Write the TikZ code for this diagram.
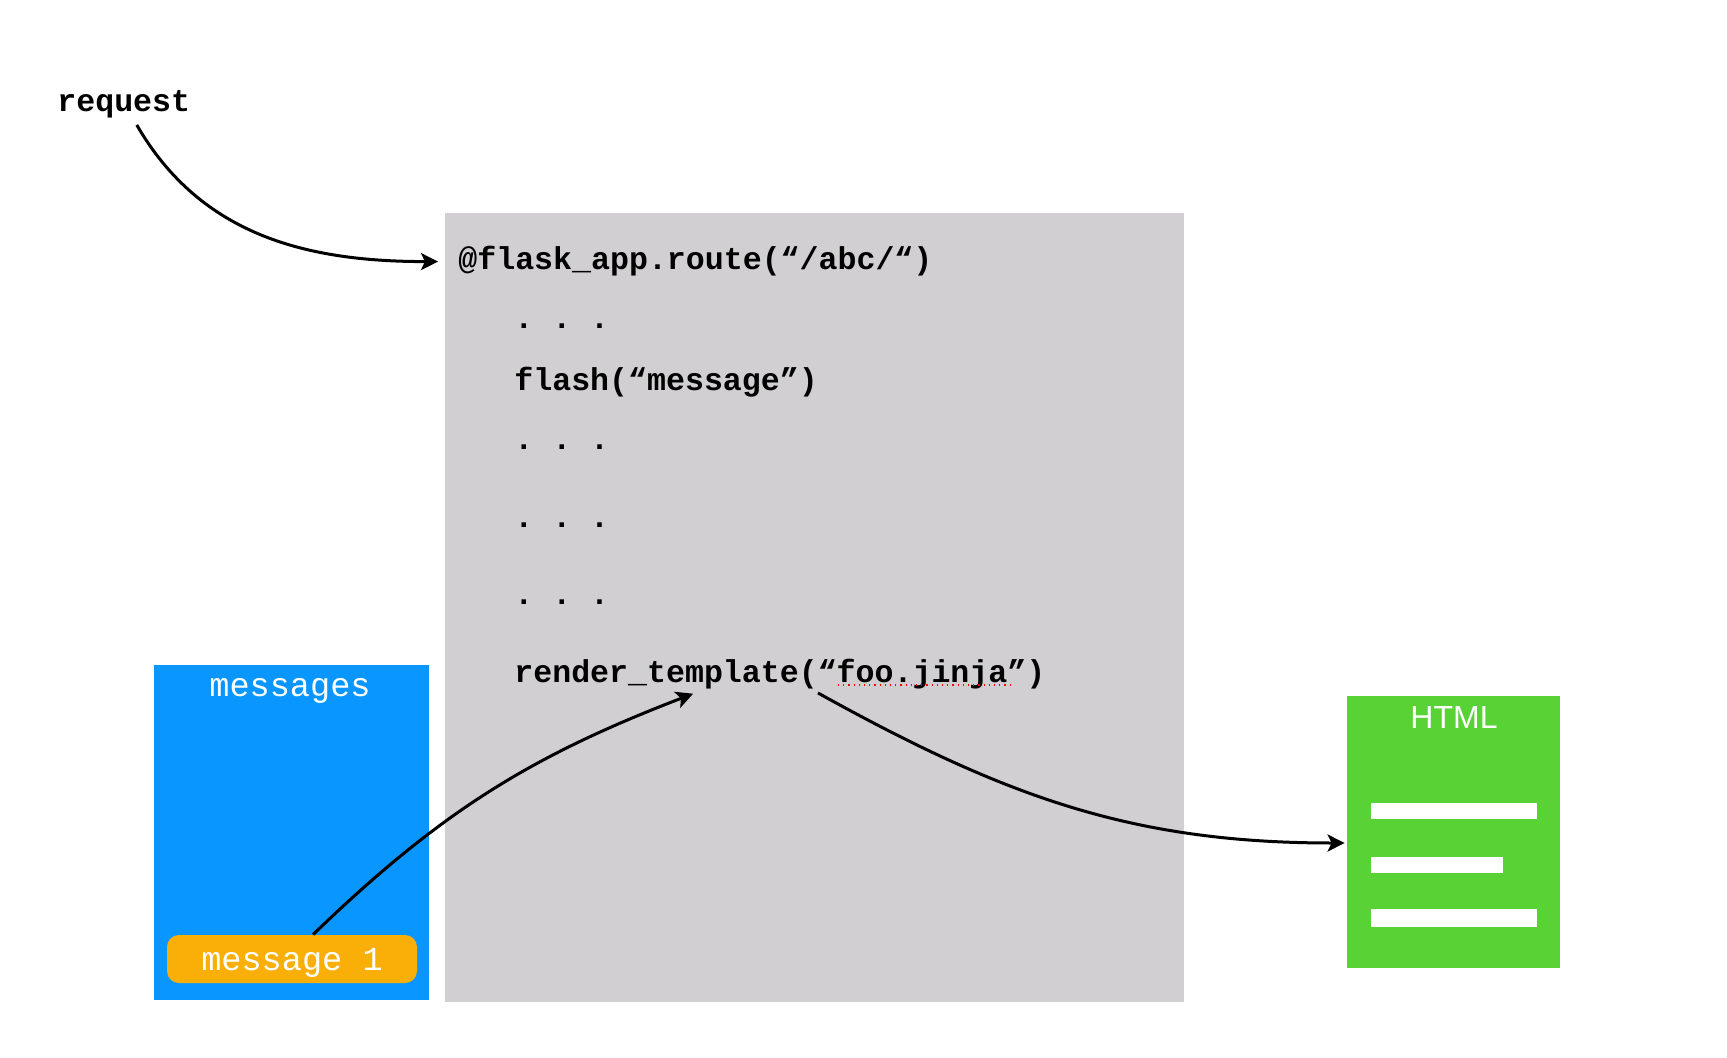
\documentclass[tikz,border=0pt]{standalone}
\usepackage{fontspec}
\setmainfont{Liberation Sans}
\setsansfont{Liberation Sans}
\setmonofont{Liberation Mono}
\usetikzlibrary{arrows.meta}

\definecolor{codegray}{RGB}{209,207,210}
\definecolor{storeblue}{RGB}{9,150,254}
\definecolor{flashorange}{RGB}{249,174,8}
\definecolor{pagegreen}{RGB}{88,210,52}

\begin{document}
\begin{tikzpicture}[x=0.5pt,y=0.5pt,>={Stealth[length=8.5pt,width=8.5pt,inset=2pt]},
  flow/.style={->,line width=1.5pt,shorten >=1pt},
  code/.style={anchor=base west,inner xsep=9pt,inner ysep=0pt,font=\ttfamily\bfseries\fontsize{15.8}{19}\selectfont},
  panel/.style={inner sep=0pt,draw=none},
  label text/.style={text=white,font=\ttfamily\fontsize{16.8}{20}\selectfont}]
  \useasboundingbox[fill=white] (0,0) rectangle (1727,-1058);

  % boxes
  \node[panel,fill=codegray,minimum width=369.5pt,minimum height=394.5pt] (fn) at (814.5,-607.5) {};
  \node[panel,fill=storeblue,minimum width=137.5pt,minimum height=167.5pt] (store) at (291.5,-832.5) {};
  \node[panel,fill=pagegreen,minimum width=106.5pt,minimum height=136pt] (page) at (1453.5,-832) {};

  \node[label text,anchor=base,inner sep=0pt] (storetitle) at (290,-696) {messages};
  \node[label text,fill=flashorange,rounded corners=6pt,minimum width=125pt,minimum height=24pt,text depth=0pt] (msg1) at (292,-959) {message 1};

  \node[anchor=base,inner sep=0pt,text=white,font=\sffamily\fontsize{16}{19}\selectfont] (pagetitle) at (1454,-728) {HTML};
  \fill[white] (1371,-803) rectangle (1537,-819);
  \fill[white] (1371,-857) rectangle (1503,-873);
  \fill[white] (1371,-909) rectangle (1537,-927);

  % code
  \node[code,inner xsep=0pt] (req) at (57,-112) {request};
  \node[code] (route) at (440,-270) {@flask\_app.route(“/abc/“)};
  \node[code] (dots1) at (496,-329) {. . .};
  \node[code] (flash) at (496,-391) {flash(“message”)};
  \node[code] (dots2) at (496,-450) {. . .};
  \node[code] (dots3) at (496,-527) {. . .};
  \node[code] (dots4) at (496,-604) {. . .};
  \node[code] (render) at (496,-682) {render\_template(“foo.jinja”)};
  \draw[red,dotted,line width=0.6pt] ([xshift=171pt,yshift=-1.5pt]render.base west) -- ([xshift=258.5pt,yshift=-1.5pt]render.base west);

  % arrows
  \draw[flow] ([xshift=6.5pt,yshift=-3pt]req.south) to[out=-60,in=180] (route.west);
  \draw[flow] ([xshift=10.5pt]msg1.north) to[out=44,in=201] ([xshift=99.5pt,yshift=-5.5pt]render.base west);
  \draw[flow] ([xshift=161pt,yshift=-5.5pt]render.base west) to[out=-29,in=180] ([yshift=-5.5pt]page.west);
\end{tikzpicture}
\end{document}
